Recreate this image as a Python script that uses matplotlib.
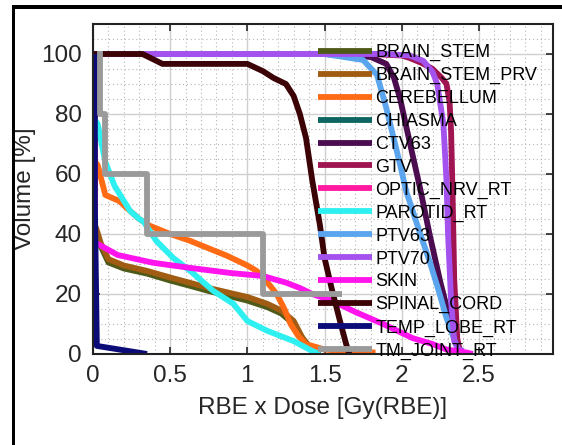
import matplotlib
matplotlib.use('Agg')
import matplotlib.pyplot as plt
from matplotlib.patches import Rectangle

plt.rcParams['font.family'] = ['Liberation Sans', 'DejaVu Sans']

# dose-volume histogram curves, dose in Gy(RBE), volume in %
brain_stem_x = [0, 0.02, 0.05, 0.1, 0.2, 0.35, 0.5, 0.63, 0.75, 0.89, 1.0, 1.13, 1.22, 1.3, 1.36, 1.42, 1.47]
brain_stem_y = [43, 41, 36, 30.5, 28.5, 26.8, 24.5, 22.7, 21, 19.2, 17.8, 15.6, 13.5, 10, 5, 1.5, 0]

brain_stem_prv_x = [0, 0.02, 0.05, 0.1, 0.2, 0.35, 0.5, 0.63, 0.75, 0.89, 1.0, 1.13, 1.22, 1.3, 1.35, 1.4, 1.45]
brain_stem_prv_y = [44, 42, 37, 31.6, 29.5, 27.7, 25.5, 23.7, 22, 20.3, 19, 16.7, 14.5, 11, 6, 2, 0]

cerebellum_x = [0, 0.03, 0.05, 0.08, 0.17, 0.24, 0.3, 0.37, 0.5, 0.63, 0.75, 0.87, 1.0, 1.06, 1.12, 1.19, 1.24, 1.28, 1.33, 1.38, 1.5, 1.65, 1.83]
cerebellum_y = [65, 63, 59, 53, 51, 47.7, 45, 42.7, 40, 37.7, 35.2, 32.7, 29.5, 27.7, 24.5, 20, 15, 10, 6, 3.3, 1.5, 0.8, 0.5]

chiasma_x = [0.012, 0.012]
chiasma_y = [100, 5]

ctv63_x = [0, 1.5, 1.8, 1.9, 1.95, 1.99, 2.05, 2.12, 2.18, 2.25, 2.31, 2.36, 2.4]
ctv63_y = [100, 100, 99, 96.7, 92, 85, 71, 55, 40, 24, 12, 2.7, 0]

gtv_x = [0, 1.8, 2.0, 2.05, 2.13, 2.2, 2.26, 2.29, 2.31, 2.32, 2.33, 2.34, 2.36, 2.38]
gtv_y = [100, 100, 99.5, 98.7, 97, 95, 92, 90, 84, 74, 52, 25, 5, 0]

optic_nrv_x = [0.012, 0.012]
optic_nrv_y = [100, 5]

parotid_x = [0, 0.03, 0.08, 0.14, 0.24, 0.3, 0.33, 0.41, 0.52, 0.63, 0.78, 0.91, 1.0, 1.13, 1.3, 1.42, 1.47]
parotid_y = [79, 76.7, 64, 56, 47.7, 45, 44, 37.7, 32, 27.7, 21, 16.7, 11, 7.7, 4.3, 1, 0]

ptv63_x = [0, 1.5, 1.75, 1.84, 1.9, 1.99, 2.03, 2.05, 2.12, 2.18, 2.24, 2.29, 2.36, 2.4]
ptv63_y = [100, 100, 98, 93, 82, 63, 54, 51, 40, 31, 21, 12, 2, 0]

ptv70_x = [0, 1.9, 2.05, 2.14, 2.2, 2.23, 2.27, 2.29, 2.3, 2.32, 2.34, 2.37, 2.4]
ptv70_y = [100, 100, 99.5, 97.7, 94, 90, 76.7, 57.7, 40, 17.7, 4.3, 1.5, 1]

skin_x = [0, 0.03, 0.16, 0.39, 0.63, 0.89, 1.1, 1.25, 1.34, 1.42, 1.55, 1.7, 1.88, 2.07, 2.2, 2.29, 2.42, 2.46]
skin_y = [37, 36.7, 33, 30.4, 28.7, 27, 26, 23.8, 22, 20, 17.7, 14, 10, 5.3, 3.3, 1.5, 0.5, 0]

spinal_x = [0, 0.32, 0.38, 0.45, 1.0, 1.1, 1.17, 1.25, 1.3, 1.34, 1.38, 1.42, 1.47, 1.5, 1.55, 1.6, 1.64, 1.66]
spinal_y = [100, 100, 98.5, 96.7, 96.7, 94.3, 92, 90, 86, 80, 72, 58, 43, 32, 21, 11, 3.3, 0]

temp_lobe_x = [0.012, 0.012, 0.025, 0.35]
temp_lobe_y = [100, 50, 2.7, 0]

tm_joint_x = [0.045, 0.045, 0.075, 0.075, 0.35, 0.35, 1.1, 1.1, 1.61]
tm_joint_y = [101, 80, 80, 60, 60, 40, 40, 20, 20]

labels = ['BRAIN_STEM', 'BRAIN_STEM_PRV', 'CEREBELLUM', 'CHIASMA', 'CTV63', 'GTV',
          'OPTIC_NRV_RT', 'PAROTID_RT', 'PTV63', 'PTV70', 'SKIN', 'SPINAL_CORD',
          'TEMP_LOBE_RT', 'TM_JOINT_RT']
curves = [(brain_stem_x, brain_stem_y), (brain_stem_prv_x, brain_stem_prv_y),
          (cerebellum_x, cerebellum_y), (chiasma_x, chiasma_y), (ctv63_x, ctv63_y),
          (gtv_x, gtv_y), (optic_nrv_x, optic_nrv_y), (parotid_x, parotid_y),
          (ptv63_x, ptv63_y), (ptv70_x, ptv70_y), (skin_x, skin_y),
          (spinal_x, spinal_y), (temp_lobe_x, temp_lobe_y), (tm_joint_x, tm_joint_y)]
colors = ['#4e5a18', '#a05c12', '#ff6a14', '#0e6662', '#4b0c50', '#a01452',
          '#ff1aa0', '#2ff0f0', '#5aa5ee', '#a352ee', '#ff14ee', '#3c0306',
          '#0c0c78', '#9a9a9a']

fig = plt.figure(figsize=(5.62, 4.45), dpi=100)
ax = fig.add_axes([93 / 562, 1 - 354 / 445, 460 / 562, 330 / 445])

for (x, y), lab, c in zip(curves, labels, colors):
    ax.plot(x, y, color=c, lw=4.2, label=lab, solid_capstyle='butt')

ax.set_xlim(0, 2.98)
ax.set_ylim(0, 110)
ax.set_xticks([0, 0.5, 1, 1.5, 2, 2.5])
ax.set_xticklabels(['0', '0.5', '1', '1.5', '2', '2.5'])
ax.set_yticks([0, 20, 40, 60, 80, 100])
ax.set_xticks([i / 10 for i in range(30)], minor=True)
ax.set_yticks(list(range(0, 110, 5)), minor=True)

ax.grid(which='major', color='#cfcfcf', lw=1.0, ls='-')
ax.grid(which='minor', color='#b5b5b5', lw=0.8, ls=(0, (1, 2.5)))
ax.set_axisbelow(True)
ax.tick_params(which='major', direction='in', length=5, width=1.2, top=True, right=True,
               labelsize=17.5, pad=8, colors='#262626')
ax.tick_params(which='minor', length=0)
for s in ax.spines.values():
    s.set_linewidth(1.5)
    s.set_color('#222222')

ax.set_xlabel('RBE x Dose [Gy(RBE)]', fontsize=17.5, color='#262626', labelpad=7)
ax.set_ylabel('Volume [%]', fontsize=17.5, color='#262626', labelpad=4)

ax.legend(loc='upper left', bbox_to_anchor=(225 / 460, 1 - 20 / 330), frameon=False,
          fontsize=13, handlelength=3.0, handletextpad=0.17, labelspacing=0.325,
          borderpad=0, borderaxespad=0)

# window frame along the top and left edges
fig.add_artist(Rectangle((12 / 562, 0), 3 / 562, 1 - 5 / 445, transform=fig.transFigure,
                         color='black', lw=0))
fig.add_artist(Rectangle((12 / 562, 1 - 9 / 445), 1, 4 / 445, transform=fig.transFigure,
                         color='black', lw=0))

fig.savefig('out.png', dpi=100)
